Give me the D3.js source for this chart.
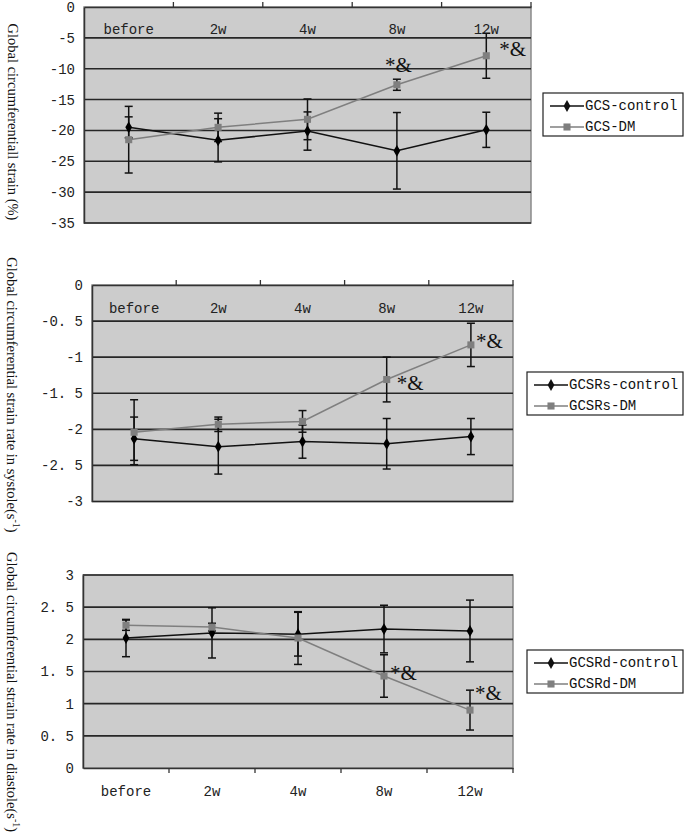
<!DOCTYPE html>
<html>
<head>
<meta charset="utf-8">
<script src="https://cdn.jsdelivr.net/npm/d3@7"></script>
<style>
  body { margin: 0; background: #fff; }
  svg { display: block; }
</style>
</head>
<body>
<svg id="chart" width="685" height="837"></svg>
<script>
// categories shared by all three panels
const categories = ["before", "2w", "4w", "8w", "12w"];

// panel 1: global circumferential strain (%)
const gcsTicks = [0, -5, -10, -15, -20, -25, -30, -35];
const gcsTickLabels = ["0", "-5", "-10", "-15", "-20", "-25", "-30", "-35"];
const gcsControl = [-19.5, -21.6, -20.1, -23.3, -19.9];
const gcsControlErr = [1.7, 3.5, 3.1, 6.2, 2.85];
const gcsDM = [-21.5, -19.5, -18.2, -12.6, -7.9];
const gcsDMErr = [5.4, 2.3, 3.3, 0.9, 3.65];

// panel 2: strain rate in systole
const gcsrsTicks = [0, -0.5, -1, -1.5, -2, -2.5, -3];
const gcsrsTickLabels = ["0", "-0. 5", "-1", "-1. 5", "-2", "-2. 5", "-3"];
const gcsrsControl = [-2.13, -2.24, -2.17, -2.2, -2.1];
const gcsrsControlErr = [0.3, 0.38, 0.23, 0.35, 0.25];
const gcsrsDM = [-2.04, -1.93, -1.89, -1.31, -0.83];
const gcsrsDMErr = [0.45, 0.1, 0.15, 0.31, 0.3];

// panel 3: strain rate in diastole
const gcsrdTicks = [3, 2.5, 2, 1.5, 1, 0.5, 0];
const gcsrdTickLabels = ["3", "2. 5", "2", "1. 5", "1", "0. 5", "0"];
const gcsrdControl = [2.02, 2.1, 2.08, 2.16, 2.13];
const gcsrdControlErr = [0.29, 0.39, 0.34, 0.37, 0.48];
const gcsrdDM = [2.22, 2.19, 2.02, 1.43, 0.9];
const gcsrdDMErr = [0.08, 0.06, 0.41, 0.33, 0.31];

const mono = "'Liberation Mono', 'DejaVu Sans Mono', monospace";
const serif = "'Liberation Serif', 'DejaVu Serif', serif";
const dmColor = "#7f7f7f";

const svg = d3.select("#chart");

function drawPanel(p) {
  const g = svg.append("g");
  const x = d3.scaleBand(categories, [p.left, p.right]);
  const y = d3.scaleLinear(p.domain, [p.bottom, p.top]);
  const cx = (i) => x(categories[i]) + x.bandwidth() / 2;

  // plot background
  g.append("rect")
    .attr("x", p.left).attr("y", p.top)
    .attr("width", p.right - p.left).attr("height", p.bottom - p.top)
    .attr("fill", "#cccccc").attr("stroke", "#8a8a8a").attr("stroke-width", 1.5);

  // grid lines
  g.append("g")
    .selectAll("line")
    .data(p.ticks.filter((t) => t !== p.baseline))
    .join("line")
    .attr("x1", p.left).attr("x2", p.right)
    .attr("y1", (d) => y(d)).attr("y2", (d) => y(d))
    .attr("stroke", "#262626").attr("stroke-width", 1.6);

  // y axis
  const yAxis = d3.axisLeft(y).tickValues(p.ticks).tickSize(0).tickPadding(9)
    .tickFormat((d, i) => p.tickLabels[i]);
  g.append("g")
    .attr("transform", `translate(${p.left},0)`)
    .call(yAxis)
    .call((a) => a.select(".domain").attr("stroke", "#333").attr("stroke-width", 1.5))
    .call((a) => a.selectAll("text")
      .attr("font-family", mono).attr("font-size", 14).attr("fill", "#222"));

  // category axis sitting on the baseline (0)
  const by = y(p.baseline);
  const xAxis = (p.labelsBelow ? d3.axisBottom(x) : d3.axisTop(x))
    .tickSize(0).tickFormat("");
  g.append("g")
    .attr("transform", `translate(0,${by})`)
    .call(xAxis)
    .call((a) => a.select(".domain").attr("stroke", "#333").attr("stroke-width", 1.5));
  // boundary tick marks
  const bounds = categories.map((c) => x(c)).slice(1).concat([p.right]);
  g.append("g")
    .selectAll("line")
    .data(bounds)
    .join("line")
    .attr("x1", (d) => d).attr("x2", (d) => d)
    .attr("y1", by).attr("y2", by + (p.labelsBelow ? 5 : -5))
    .attr("stroke", "#333").attr("stroke-width", 1.3);

  g.append("g")
    .selectAll("text")
    .data(categories)
    .join("text")
    .attr("x", (d) => x(d) + x.bandwidth() / 2)
    .attr("y", p.labelY)
    .attr("text-anchor", "middle")
    .attr("dominant-baseline", "central")
    .attr("font-family", mono).attr("font-size", 14).attr("fill", "#222")
    .text((d) => d);

  // series lines
  const line = d3.line().x((d, i) => cx(i)).y((d) => y(d));
  g.append("path").datum(p.control).attr("d", line)
    .attr("fill", "none").attr("stroke", "#111").attr("stroke-width", 1.5);
  g.append("path").datum(p.dm).attr("d", line)
    .attr("fill", "none").attr("stroke", dmColor).attr("stroke-width", 1.5);

  // error bars
  const errs = [];
  p.control.forEach((v, i) => errs.push({ i, v, e: p.controlErr[i] }));
  p.dm.forEach((v, i) => errs.push({ i, v, e: p.dmErr[i] }));
  const eb = g.append("g").attr("stroke", "#111").attr("stroke-width", 1.5);
  eb.selectAll("line.v").data(errs).join("line").attr("class", "v")
    .attr("x1", (d) => cx(d.i)).attr("x2", (d) => cx(d.i))
    .attr("y1", (d) => y(d.v - d.e)).attr("y2", (d) => y(d.v + d.e));
  eb.selectAll("line.t").data(errs).join("line").attr("class", "t")
    .attr("x1", (d) => cx(d.i) - 4).attr("x2", (d) => cx(d.i) + 4)
    .attr("y1", (d) => y(d.v + d.e)).attr("y2", (d) => y(d.v + d.e));
  eb.selectAll("line.b").data(errs).join("line").attr("class", "b")
    .attr("x1", (d) => cx(d.i) - 4).attr("x2", (d) => cx(d.i) + 4)
    .attr("y1", (d) => y(d.v - d.e)).attr("y2", (d) => y(d.v - d.e));

  // markers
  const diamond = d3.symbol(d3.symbolDiamond, 40);
  const square = d3.symbol(d3.symbolSquare, 50);
  g.append("g").selectAll("path").data(p.control).join("path")
    .attr("transform", (d, i) => `translate(${cx(i)},${y(d)})`)
    .attr("d", diamond).attr("fill", "#000");
  g.append("g").selectAll("path").data(p.dm).join("path")
    .attr("transform", (d, i) => `translate(${cx(i)},${y(d)})`)
    .attr("d", square).attr("fill", dmColor);

  // significance marks
  g.append("g").selectAll("text").data(p.marks).join("text")
    .attr("x", (d) => cx(d.i) + d.dx)
    .attr("y", (d) => y(p.dm[d.i]) + d.dy)
    .attr("dominant-baseline", "central")
    .attr("font-family", serif).attr("font-size", 21).attr("fill", "#111")
    .text("*&");

  // y title
  g.append("text")
    .attr("transform", `translate(${p.titleX},${p.titleY}) rotate(90)`)
    .attr("text-anchor", "middle")
    .attr("dominant-baseline", "central")
    .attr("font-family", serif).attr("font-size", 14.5).attr("fill", "#111")
    .call((t) => {
      t.append("tspan").text(p.title);
      if (p.unit) {
        t.append("tspan").text("(s");
        t.append("tspan").attr("font-size", 10).attr("dy", -5).text("-1");
        t.append("tspan").attr("dy", 5).text(")");
      }
    });

  // legend
  const lg = g.append("g").attr("transform", `translate(${p.legend.x},${p.legend.y})`);
  lg.append("rect").attr("width", p.legend.w).attr("height", 43)
    .attr("fill", "#fff").attr("stroke", "#222").attr("stroke-width", 1.2);
  const items = [
    { name: p.names[0], color: "#111", sym: diamond },
    { name: p.names[1], color: dmColor, sym: square },
  ];
  items.forEach((it, k) => {
    const ly = 13 + k * 21;
    lg.append("line").attr("x1", 7).attr("x2", 41).attr("y1", ly).attr("y2", ly)
      .attr("stroke", it.color).attr("stroke-width", 1.5);
    lg.append("path").attr("transform", `translate(24,${ly})`)
      .attr("d", it.sym).attr("fill", it.color);
    lg.append("text").attr("x", 42).attr("y", ly)
      .attr("dominant-baseline", "central")
      .attr("font-family", mono).attr("font-size", 14).attr("fill", "#111")
      .text(it.name);
  });
}

drawPanel({
  left: 84, right: 531, top: 7, bottom: 223,
  domain: [-35, 0], baseline: 0, ticks: gcsTicks, tickLabels: gcsTickLabels,
  labelsBelow: false, labelY: 30,
  control: gcsControl, controlErr: gcsControlErr, dm: gcsDM, dmErr: gcsDMErr,
  marks: [{ i: 3, dx: -12, dy: -20 }, { i: 4, dx: 13, dy: -7 }],
  title: "Global circumferentiall strain (%)", titleX: 13, titleY: 122,
  legend: { x: 543, y: 93, w: 140 }, names: ["GCS-control", "GCS-DM"],
});

drawPanel({
  left: 92, right: 513, top: 285, bottom: 501.5,
  domain: [-3, 0], baseline: 0, ticks: gcsrsTicks, tickLabels: gcsrsTickLabels,
  labelsBelow: false, labelY: 309,
  control: gcsrsControl, controlErr: gcsrsControlErr, dm: gcsrsDM, dmErr: gcsrsDMErr,
  marks: [{ i: 3, dx: 10, dy: 3 }, { i: 4, dx: 5, dy: -4 }],
  title: "Global circumferential strain rate in systole", unit: true, titleX: 12, titleY: 395,
  legend: { x: 527, y: 372, w: 156 }, names: ["GCSRs-control", "GCSRs-DM"],
});

drawPanel({
  left: 83, right: 513, top: 575, bottom: 768,
  domain: [0, 3], baseline: 0, ticks: gcsrdTicks, tickLabels: gcsrdTickLabels,
  labelsBelow: true, labelY: 792,
  control: gcsrdControl, controlErr: gcsrdControlErr, dm: gcsrdDM, dmErr: gcsrdDMErr,
  marks: [{ i: 3, dx: 6, dy: -3 }, { i: 4, dx: 5, dy: -17 }],
  title: "Global circumferential strain rate in diastole", unit: true, titleX: 12, titleY: 692,
  legend: { x: 527, y: 650, w: 156 }, names: ["GCSRd-control", "GCSRd-DM"],
});
</script>
</body>
</html>
